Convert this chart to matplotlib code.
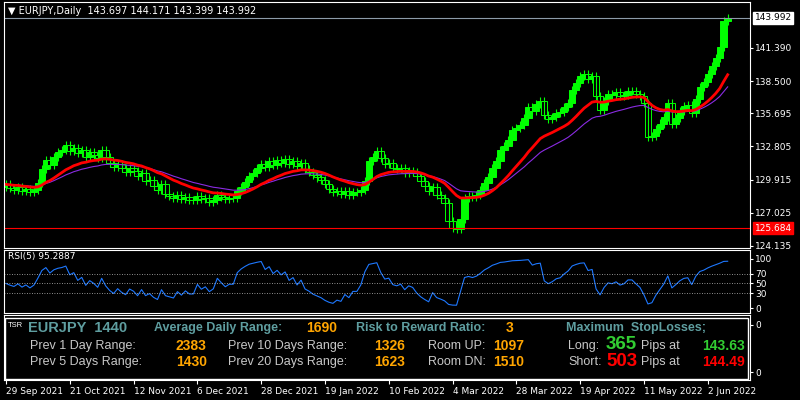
import numpy as np
import matplotlib
matplotlib.use("Agg")
import matplotlib.pyplot as plt
from matplotlib.patches import Rectangle

# daily closes EURJPY, 29 Sep 2021 .. 3 Jun 2022
closes = [
    129.5, 129.2, 129.0, 129.3, 128.9, 129.1, 128.8, 129.0, 129.6, 130.8,
    131.6, 131.2, 131.9, 132.3, 132.5, 132.9, 132.4, 132.7, 132.2, 132.5,
    131.9, 132.3, 132.1, 131.8, 132.5, 131.9, 131.4, 131.0, 131.3, 130.9,
    130.6, 130.9, 130.7, 130.2, 130.5, 129.8, 129.9, 129.4, 129.0, 129.5,
    128.7, 128.5, 128.3, 128.6, 128.2, 128.4, 128.1, 128.1, 128.5, 128.2,
    128.3, 128.0, 128.1, 128.6, 128.4, 128.2, 128.3, 128.3, 128.9, 129.3,
    129.7, 130.2, 130.5, 130.9, 131.3, 131.0, 131.5, 131.2, 131.6, 131.4,
    131.7, 131.3, 131.5, 131.1, 131.4, 130.8, 130.6, 130.3, 130.1, 129.9,
    129.5, 129.1, 128.8, 128.9, 128.7, 128.9, 128.6, 128.8, 128.8, 129.0,
    129.8, 131.5, 131.9, 132.4, 131.8, 131.3, 131.4, 130.9, 130.8, 130.9,
    130.5, 130.7, 130.6, 130.2, 129.8, 129.4, 128.9, 129.3, 128.6, 128.3,
    127.9, 126.3, 125.7, 125.6, 126.5, 128.3, 128.5, 128.4, 128.6, 129.0,
    129.6, 130.1, 130.9, 131.5, 132.5, 132.8, 133.4, 134.2, 134.4, 134.7,
    135.3, 136.2, 135.9, 136.5, 136.8, 135.5, 135.2, 135.4, 135.7, 135.8,
    136.2, 136.6, 137.7, 138.3, 138.9, 139.1, 138.7, 138.9, 137.2, 136.0,
    136.8, 137.4, 137.3, 137.5, 137.2, 137.3, 137.6, 137.6, 137.4, 137.2,
    136.6, 133.6, 133.7, 134.3, 134.8, 135.4, 136.6, 134.8, 135.3, 135.9,
    136.3, 136.4, 135.7, 136.9, 138.0, 138.4, 139.1, 139.8, 140.5, 141.5,
    143.697, 143.992,
]
first_open = 129.3
wick = 0.35

price_ticks = [124.135, 127.025, 129.915, 132.805, 135.695, 138.500, 141.390]
last_price = 143.992
low_line = 125.684

date_labels = ["29 Sep 2021", "21 Oct 2021", "12 Nov 2021", "6 Dec 2021", "28 Dec 2021",
               "19 Jan 2022", "10 Feb 2022", "4 Mar 2022", "28 Mar 2022", "19 Apr 2022",
               "11 May 2022", "2 Jun 2022"]
date_idx = [0, 16, 32, 48, 64, 80, 96, 112, 128, 144, 160, 176]

rsi_levels = [100, 70, 50, 30, 0]

closes = np.array(closes)
n = len(closes)
opens = np.concatenate([[first_open], closes[:-1]])
highs = np.maximum(opens, closes) + wick
lows = np.minimum(opens, closes) - wick
x = np.arange(n)


def ema(v, p):
    out = np.empty_like(v)
    a = 2 / (p + 1)
    out[0] = v[0]
    for i in range(1, len(v)):
        out[i] = a * v[i] + (1 - a) * out[i - 1]
    return out


def rsi(v, p):
    d = np.diff(v, prepend=v[0])
    up = np.where(d > 0, d, 0.0)
    dn = np.where(d < 0, -d, 0.0)
    au, ad = np.zeros(n), np.zeros(n)
    au[0], ad[0] = 0.5, 0.5
    for i in range(1, n):
        au[i] = (au[i - 1] * (p - 1) + up[i]) / p
        ad[i] = (ad[i - 1] * (p - 1) + dn[i]) / p
    return 100 * au / np.maximum(au + ad, 1e-9)


fig = plt.figure(figsize=(8, 4), dpi=100, facecolor="black")
xl = (-0.5, 186.5)
axw = 0.932

# ---- main price panel
ax = fig.add_axes([0.005, 0.38, axw, 0.615], facecolor="black")
green = "#00ff00"
for i in range(n):
    ax.vlines(x[i], lows[i], highs[i], color=green, lw=0.8)
    lo, hi = min(opens[i], closes[i]), max(opens[i], closes[i])
    ax.add_patch(Rectangle((x[i] - 0.8, lo), 1.6, max(hi - lo, 0.05),
                           facecolor="black" if closes[i] < opens[i] else "#00ff00",
                           edgecolor=green, lw=0.7))
ax.plot(x, ema(closes, 30), color="#8a2be2", lw=0.8)
ax.plot(x, ema(closes, 18), color="red", lw=2)
ax.axhline(last_price, color="#8c9aa8", lw=0.8)
ax.axhline(low_line, color="red", lw=0.8)
ax.set_xlim(*xl)
ax.set_ylim(123.96, 145.38)
ax.set_xticks([])
ax.yaxis.tick_right()
ax.set_yticks(price_ticks)
ax.set_yticklabels([f"{t:.3f}" for t in price_ticks])
ax.tick_params(axis="y", colors="white", labelsize=6.5, length=2, pad=2)
ax.text(0.005, 0.985, "\u25bc EURJPY,Daily  143.697 144.171 143.399 143.992", transform=ax.transAxes,
        color="white", fontsize=7, va="top")
ax.text(1.007, last_price, "143.992", transform=ax.get_yaxis_transform(), color="black", fontsize=6.5,
        va="center", bbox=dict(facecolor="white", edgecolor="white", pad=1))
ax.text(1.007, low_line, "125.684", transform=ax.get_yaxis_transform(), color="white", fontsize=6.5,
        va="center", bbox=dict(facecolor="red", edgecolor="red", pad=1))

# ---- RSI panel
ar = fig.add_axes([0.005, 0.2175, axw, 0.1575], facecolor="black")
r = rsi(closes, 5)
ar.plot(x, r, color="#1e78ff", lw=0.8)
for lv in [70, 50, 30]:
    ar.axhline(lv, color="#c0c0c0", lw=0.6, ls=(0, (1, 2)))
ar.set_xlim(*xl)
ar.set_ylim(-10, 118)
ar.set_xticks([])
ar.yaxis.tick_right()
ar.set_yticks(rsi_levels)
ar.tick_params(axis="y", colors="white", labelsize=6.5, length=2, pad=2)
ar.text(0.005, 0.97, "RSI(5) 95.2887", transform=ar.transAxes, color="white", fontsize=6.5, va="top")

# ---- info panel
ai = fig.add_axes([0.005, 0.05, axw, 0.1625], facecolor="black")
ai.set_xlim(*xl)
ai.set_ylim(0, 1)
ai.yaxis.tick_right()
ai.set_yticks([0.12, 0.85])
ai.set_yticklabels(["0", "0"])
ai.tick_params(axis="y", colors="white", labelsize=6.5, length=2, pad=2)
ai.set_xticks(date_idx)
ai.set_xticklabels(date_labels, ha="left")
ai.tick_params(axis="x", colors="white", labelsize=6.5, length=3, pad=2)
ai.add_patch(Rectangle((0.002, 0.02), 0.996, 0.93, transform=ai.transAxes, fill=False,
                       edgecolor="white", lw=1))

fn = "Liberation Sans"
teal, orange, grey = "#5f9ea0", "#ffa500", "#c8c8c8"
t = ai.transAxes
W = axw * 800
def tx(px, py, s, c, size, bold=False):
    ai.text(px / W, py, s, transform=t, color=c, fontsize=size, fontfamily=fn,
            fontweight="bold" if bold else "normal", va="center")

tx(4, 0.84, "TSR", "white", 5.5)
tx(24, 0.80, "EURJPY  1440", teal, 10.5, True)
tx(150, 0.80, "Average Daily Range:", teal, 9, True)
tx(302, 0.80, "1690", orange, 10, True)
tx(352, 0.80, "Risk to Reward Ratio:", teal, 9, True)
tx(502, 0.80, "3", orange, 10, True)
tx(562, 0.80, "Maximum  StopLosses;", teal, 9, True)

tx(26, 0.53, "Prev 1 Day Range:", grey, 9)
tx(172, 0.53, "2383", orange, 10, True)
tx(224, 0.53, "Prev 10 Days Range:", grey, 9)
tx(370, 0.53, "1326", orange, 10, True)
tx(424, 0.53, "Room UP:", grey, 9)
tx(489, 0.53, "1097", orange, 10, True)
tx(564, 0.53, "Long:", grey, 9)
tx(602, 0.55, "365", "#32cd32", 13.5, True)
tx(637, 0.53, "Pips at", grey, 9)
tx(698, 0.53, "143.63", "#32cd32", 10, True)

tx(26, 0.28, "Prev 5 Days Range:", grey, 9)
tx(172, 0.28, "1430", orange, 10, True)
tx(224, 0.28, "Prev 20 Days Range:", grey, 9)
tx(370, 0.28, "1623", orange, 10, True)
tx(424, 0.28, "Room DN:", grey, 9)
tx(489, 0.28, "1510", orange, 10, True)
tx(564, 0.28, "Short:", grey, 9)
tx(602, 0.28, "503", "red", 13.5, True)
tx(637, 0.28, "Pips at", grey, 9)
tx(698, 0.28, "144.49", "red", 10, True)

for a in (ax, ar, ai):
    for s in a.spines.values():
        s.set_color("white")

fig.savefig("out.png", dpi=100, facecolor="black")
